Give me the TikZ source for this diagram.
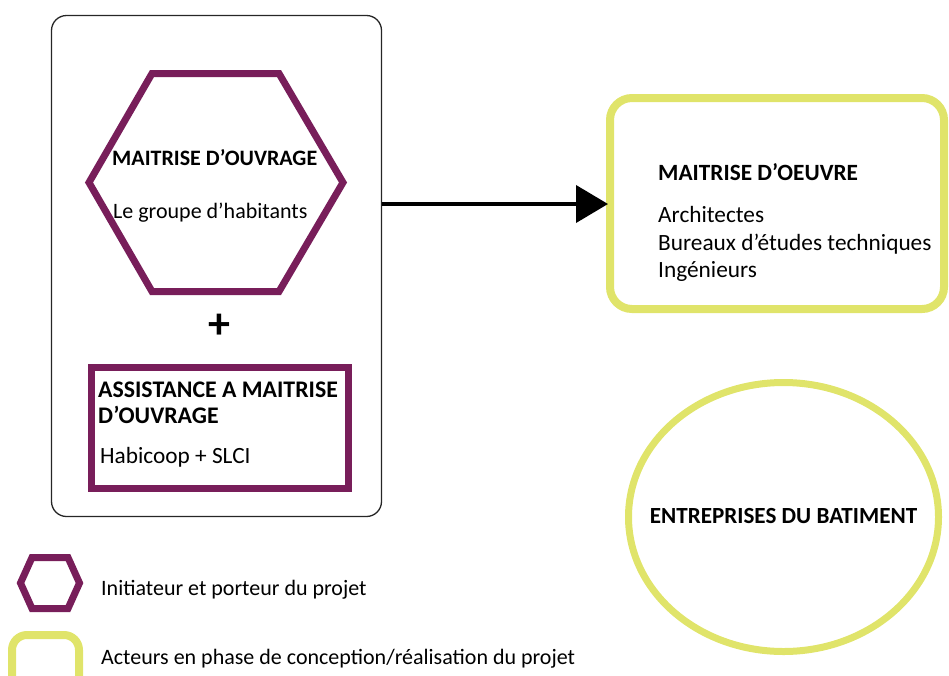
\documentclass[tikz,border=0pt]{standalone}
\usepackage{fontspec}
\setmainfont{Carlito}
\usetikzlibrary{arrows.meta,shapes.geometric}
\definecolor{plum}{RGB}{120,30,90}
\definecolor{lime}{RGB}{224,228,106}
\tikzset{
  txt/.style={font=\fontsize{22}{26}\selectfont, inner sep=0pt, anchor=base west},
  btxt/.style={txt, font=\fontsize{22}{26}\selectfont\bfseries},
  mtxt/.style={txt, font=\fontsize{23.3}{27}\selectfont},
  mbtxt/.style={txt, font=\fontsize{23.3}{27}\selectfont\bfseries},
  plumline/.style={draw=plum, line width=7pt},
  limeline/.style={draw=lime, line width=8pt},
}
\begin{document}
\begin{tikzpicture}[x=1pt,y=-1pt]
\useasboundingbox (0,0) rectangle (949,675);
% outer box
\node[draw=black!85, line width=1.3pt, rounded corners=15pt, minimum width=330pt, minimum height=501pt, outer sep=0pt, inner sep=0pt] (outer) at (216.5,266) {};
% hexagon
\draw[plumline, line join=miter] (152,73.5) -- (279,73.5) -- (343,182.5) -- (279,291.5) -- (152,291.5) -- (89,182.5) -- cycle;
\node[btxt] (mo) at (112,165) {MAITRISE D’OUVRAGE};
\node[txt] (mogrp) at (113,218) {Le groupe d’habitants};
% plus
\node[font=\fontsize{44}{48}\selectfont\bfseries, inner sep=0pt] (plus) at (219,326) {+};
% AMO box
\node[plumline, minimum width=257pt, minimum height=121pt, outer sep=0pt, inner sep=0pt] (amo) at (219.5,427.5) {};
\node[mbtxt, font=\fontsize{23.8}{27}\selectfont\bfseries] (amo1) at (98,397) {ASSISTANCE A MAITRISE};
\node[mbtxt, font=\fontsize{23.8}{27}\selectfont\bfseries] (amo2) at (98,423) {D’OUVRAGE};
\node[mtxt] (amo3) at (100,463) {Habicoop + SLCI};
% MOE box
\node[limeline, rounded corners=22pt, minimum width=334pt, minimum height=211pt, outer sep=0pt, inner sep=0pt] (moe) at (777,203.5) {};
\node[mbtxt] (moe1) at (658,180) {MAITRISE D’OEUVRE};
\node[mtxt] (moe2) at (658,222) {Architectes};
\node[mtxt] (moe3) at (658,250) {Bureaux d’études techniques};
\node[mtxt] (moe4) at (658,277) {Ingénieurs};
% arrow
\draw[line width=4pt, -{Triangle[length=32pt,width=37pt]}, shorten >=2pt] (outer.east |- 0,204) -- (moe.west |- 0,204);
% ellipse
\node[ellipse, draw=lime, line width=7pt, minimum width=310pt, minimum height=269pt, inner sep=0pt, outer sep=0pt] (ent) at (783.5,517) {};
\node[mbtxt, font=\fontsize{23.1}{27}\selectfont\bfseries, anchor=base] (entt) at (783.5,523) {ENTREPRISES DU BATIMENT};
% legend
\draw[plumline, line join=miter] (20.5,583) -- (32,557.5) -- (68,557.5) -- (79.5,583) -- (68,608.5) -- (32,608.5) -- cycle;
\node[txt] (leg1) at (101,595) {Initiateur et porteur du projet};
\draw[limeline, rounded corners=15pt] (12,635) rectangle (79,692);
\node[txt] (leg2) at (101,664) {Acteurs en phase de conception/réalisation du projet};
\end{tikzpicture}
\end{document}
